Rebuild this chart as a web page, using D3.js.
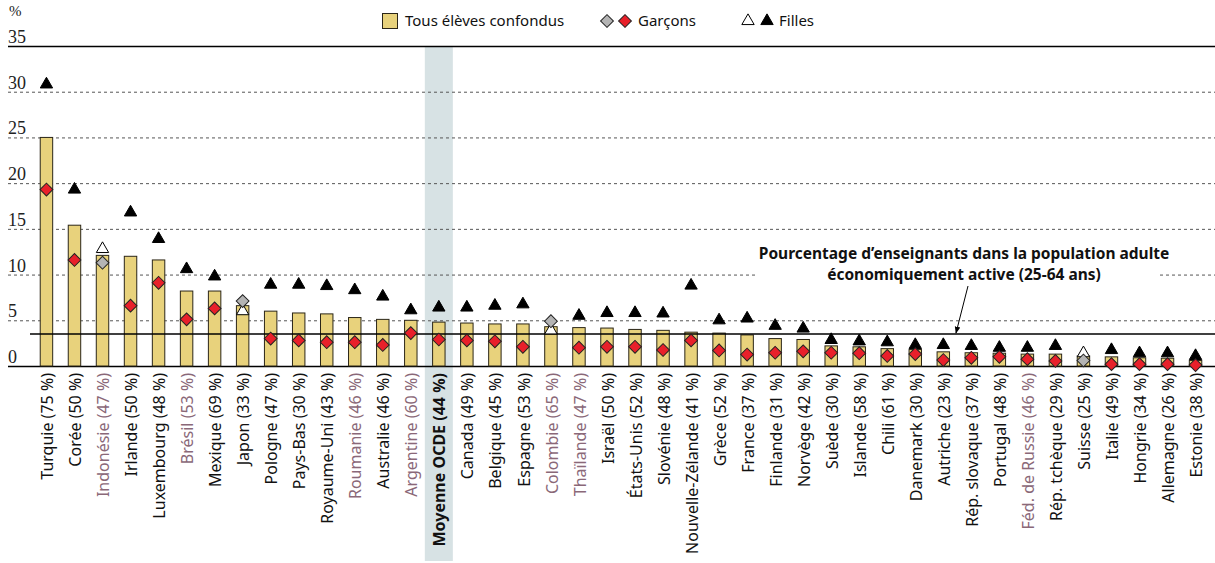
<!DOCTYPE html>
<html>
<head>
<meta charset="utf-8">
<script src="https://cdn.jsdelivr.net/npm/d3@7"></script>
<style>
  body { margin: 0; background: #fff; }
  svg { display: block; }
  .lbl { font-family: "Noto Sans", sans-serif; font-size: 16px; }
  .leg { font-family: "Noto Sans", sans-serif; font-size: 15px; }
  .tick text { font-family: "Liberation Serif", serif; font-size: 18px; fill: #222; }
</style>
</head>
<body>
<svg id="chart" width="1215" height="563"></svg>
<script>
// countries and share of teachers that are women
var countries = ['Turquie (75 %)', 'Corée (50 %)', 'Indonésie (47 %)', 'Irlande (50 %)', 'Luxembourg (48 %)',
  'Brésil (53 %)', 'Mexique (69 %)', 'Japon (33 %)', 'Pologne (47 %)', 'Pays-Bas (30 %)', 'Royaume-Uni (43 %)',
  'Roumanie (46 %)', 'Australie (46 %)', 'Argentine (60 %)', 'Moyenne OCDE (44 %)', 'Canada (49 %)',
  'Belgique (45 %)', 'Espagne (53 %)', 'Colombie (65 %)', 'Thaïlande (47 %)', 'Israël (50 %)',
  'États-Unis (52 %)', 'Slovénie (48 %)', 'Nouvelle-Zélande (41 %)', 'Grèce (52 %)', 'France (37 %)',
  'Finlande (31 %)', 'Norvège (42 %)', 'Suède (30 %)', 'Islande (58 %)', 'Chili (61 %)', 'Danemark (30 %)',
  'Autriche (23 %)', 'Rép. slovaque (37 %)', 'Portugal (48 %)', 'Féd. de Russie (46 %)', 'Rép. tchèque (29 %)',
  'Suisse (25 %)', 'Italie (49 %)', 'Hongrie (34 %)', 'Allemagne (26 %)', 'Estonie (38 %)'];

var allStudents = [25.0, 15.4, 12.1, 12.0, 11.6, 8.2, 8.2, 6.6, 6.0, 5.8, 5.7, 5.3, 5.1, 5.0, 4.8, 4.7,
  4.6, 4.6, 4.3, 4.2, 4.15, 4.0, 3.9, 3.7, 3.6, 3.4, 3.0, 2.9, 2.2, 2.1, 1.9, 1.8,
  1.55, 1.45, 1.4, 1.3, 1.3, 1.1, 1.0, 0.9, 0.85, 0.6];

var boys = [19.3, 11.6, 11.3, 6.6, 9.1, 5.1, 6.3, 7.1, 3.0, 2.8, 2.6, 2.6, 2.3, 3.6, 2.9, 2.8,
  2.7, 2.1, 4.9, 2.0, 2.1, 2.1, 1.75, 2.8, 1.7, 1.25, 1.45, 1.6, 1.45, 1.4, 1.1, 1.3,
  0.65, 0.9, 1.0, 0.75, 0.55, 0.6, 0.2, 0.2, 0.2, 0.1];

var girls = [30.8, 19.3, 12.8, 16.8, 13.9, 10.6, 9.8, 6.0, 8.9, 8.9, 8.75, 8.3, 7.6, 6.1, 6.4, 6.4,
  6.6, 6.75, 3.9, 5.5, 5.8, 5.8, 5.75, 8.8, 5.0, 5.2, 4.4, 4.1, 2.85, 2.7, 2.6, 2.3,
  2.3, 2.2, 2.0, 2.0, 2.2, 1.4, 1.75, 1.4, 1.4, 1.1];

// difference between boys and girls not significant
var notSignificant = ['Indonésie (47 %)', 'Japon (33 %)', 'Colombie (65 %)', 'Suisse (25 %)'];
var partners = ['Indonésie (47 %)', 'Brésil (53 %)', 'Roumanie (46 %)', 'Argentine (60 %)',
  'Colombie (65 %)', 'Thaïlande (47 %)', 'Féd. de Russie (46 %)'];
var average = 'Moyenne OCDE (44 %)';

var yTicks = [0, 5, 10, 15, 20, 25, 30, 35];
var teacherShare = 3.5;

var svg = d3.select('#chart');

var x = d3.scaleBand()
  .domain(countries)
  .range([33, 1209])
  .paddingInner(0.52)
  .paddingOuter(0.24);

var y = d3.scaleLinear()
  .domain([0, 35])
  .range([366, 46]);

var step = x.step();
var bw = x.bandwidth();

// OECD average band
svg.append('rect')
  .attr('x', x(average) + bw / 2 - step / 2)
  .attr('y', y(35) + 1)
  .attr('width', step)
  .attr('height', 560 - y(35))
  .attr('fill', '#d7e2e4');

// grid
svg.append('g').selectAll('line')
  .data(yTicks)
  .join('line')
  .attr('x1', 8)
  .attr('x2', 1215)
  .attr('y1', d => y(d) + 0.5)
  .attr('y2', d => y(d) + 0.5)
  .attr('stroke', d => (d === 0 || d === 35) ? '#000' : '#555')
  .attr('stroke-width', d => (d === 0 || d === 35) ? 1.5 : 1)
  .attr('stroke-dasharray', d => (d === 0 || d === 35) ? null : '3,3');

svg.append('g').attr('class', 'tick').selectAll('text')
  .data(yTicks)
  .join('text')
  .attr('x', 8)
  .attr('y', d => y(d) - 3)
  .text(d => d);

svg.append('text')
  .attr('x', 9)
  .attr('y', 16)
  .style('font-family', '"Liberation Serif", serif')
  .style('font-size', '15px')
  .attr('fill', '#222')
  .text('%');

// bars
svg.append('g').selectAll('rect')
  .data(countries)
  .join('rect')
  .attr('x', d => x(d) + 0.5)
  .attr('y', (d, i) => y(allStudents[i]))
  .attr('width', bw - 1)
  .attr('height', (d, i) => y(0) - y(allStudents[i]))
  .attr('fill', '#e8d27c')
  .attr('stroke', '#2b2618')
  .attr('stroke-width', 1);

// teacher share line
svg.append('line')
  .attr('x1', 30)
  .attr('x2', 1215)
  .attr('y1', y(teacherShare))
  .attr('y2', y(teacherShare))
  .attr('stroke', '#000')
  .attr('stroke-width', 1.3);

var diamond = d3.symbol().type(d3.symbolSquare).size(82);
var triangle = d3.symbol().type(d3.symbolTriangle).size(66);

// girls
svg.append('g').selectAll('path')
  .data(countries)
  .join('path')
  .attr('d', triangle)
  .attr('transform', (d, i) => 'translate(' + (x(d) + bw / 2) + ',' + y(girls[i]) + ')')
  .attr('fill', d => notSignificant.includes(d) ? '#fff' : '#000')
  .attr('stroke', '#000')
  .attr('stroke-width', 1);

// boys
svg.append('g').selectAll('path')
  .data(countries)
  .join('path')
  .attr('d', diamond)
  .attr('transform', (d, i) => 'translate(' + (x(d) + bw / 2) + ',' + y(boys[i]) + ') rotate(45)')
  .attr('fill', d => notSignificant.includes(d) ? '#b4b4b4' : '#e8202a')
  .attr('stroke', '#222')
  .attr('stroke-width', 1);

// x labels
svg.append('g').selectAll('text')
  .data(countries)
  .join('text')
  .attr('class', 'lbl')
  .attr('transform', d => 'translate(' + (x(d) + bw / 2 + 1) + ',373) rotate(-90)')
  .attr('text-anchor', 'end')
  .attr('dy', '0.35em')
  .attr('fill', d => partners.includes(d) ? '#8a6878' : '#111')
  .style('font-weight', d => d === average ? 'bold' : null)
  .text(d => d);

// annotation
var note = svg.append('g');
note.append('rect')
  .attr('x', 755).attr('y', 264).attr('width', 405).attr('height', 22)
  .attr('fill', '#fff');
note.append('text')
  .attr('class', 'leg')
  .attr('x', 964).attr('y', 259)
  .attr('text-anchor', 'middle')
  .style('font-weight', 'bold')
  .style('font-size', '15.5px')
  .attr('fill', '#111')
  .text('Pourcentage d\u2019enseignants dans la population adulte');
note.append('text')
  .attr('class', 'leg')
  .attr('x', 964).attr('y', 280)
  .attr('text-anchor', 'middle')
  .style('font-weight', 'bold')
  .style('font-size', '15.5px')
  .attr('fill', '#111')
  .text('économiquement active (25-64 ans)');

svg.append('defs').append('marker')
  .attr('id', 'arrow')
  .attr('viewBox', '0 0 10 10')
  .attr('refX', 9).attr('refY', 5)
  .attr('markerWidth', 7).attr('markerHeight', 7)
  .attr('orient', 'auto')
  .append('path')
  .attr('d', 'M0,1 L10,5 L0,9 Z')
  .attr('fill', '#000');

svg.append('line')
  .attr('x1', 968).attr('y1', 286)
  .attr('x2', 956).attr('y2', y(teacherShare) - 1)
  .attr('stroke', '#000')
  .attr('stroke-width', 1)
  .attr('marker-end', 'url(#arrow)');

// legend
var lg = svg.append('g');
lg.append('rect')
  .attr('x', 382.5).attr('y', 13.5).attr('width', 15).attr('height', 15)
  .attr('fill', '#e8d27c').attr('stroke', '#2b2618');
lg.append('text').attr('class', 'leg')
  .attr('x', 405).attr('y', 26).attr('fill', '#111')
  .text('Tous élèves confondus');

lg.append('path').attr('d', diamond)
  .attr('transform', 'translate(607,21) rotate(45)')
  .attr('fill', '#b4b4b4').attr('stroke', '#222');
lg.append('path').attr('d', diamond)
  .attr('transform', 'translate(625,21) rotate(45)')
  .attr('fill', '#e8202a').attr('stroke', '#222');
lg.append('text').attr('class', 'leg')
  .attr('x', 638).attr('y', 26).attr('fill', '#111')
  .text('Garçons');

lg.append('path').attr('d', triangle)
  .attr('transform', 'translate(748,21)')
  .attr('fill', '#fff').attr('stroke', '#000');
lg.append('path').attr('d', triangle)
  .attr('transform', 'translate(767,21)')
  .attr('fill', '#000').attr('stroke', '#000');
lg.append('text').attr('class', 'leg')
  .attr('x', 779).attr('y', 26).attr('fill', '#111')
  .text('Filles');
</script>
</body>
</html>
